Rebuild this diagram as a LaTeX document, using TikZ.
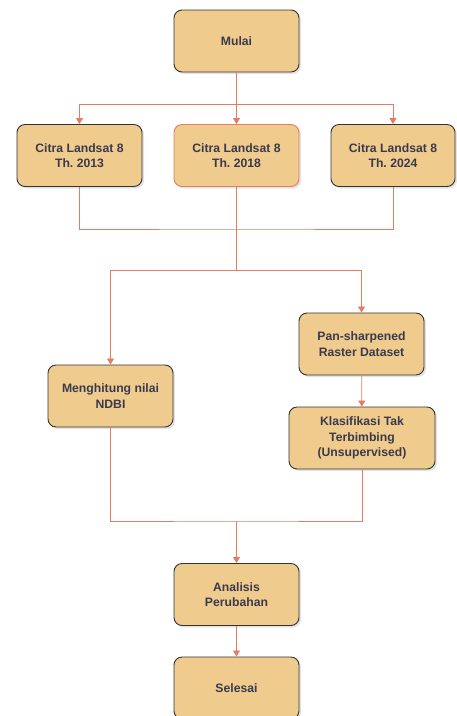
\documentclass[tikz,border=0pt]{standalone}
\usepackage{fontspec}
\setmainfont{Liberation Sans}
\usetikzlibrary{arrows.meta,shadows}
\definecolor{boxfill}{RGB}{240,203,142}
\definecolor{linkred}{RGB}{226,124,98}
\definecolor{txtgray}{RGB}{58,58,76}
\frenchspacing
\tikzset{
  stepbox/.style={draw=black!80, fill=boxfill, rounded corners=8pt,
    minimum width=125pt, minimum height=62pt, align=center, text=txtgray,
    font=\bfseries\fontsize{12.2}{15.5}\selectfont, line width=0.9pt,
    drop shadow={opacity=0.22, shadow xshift=2pt, shadow yshift=-2pt}},
  link/.style={draw=linkred, line width=0.8pt},
  arr/.style={link, -{Triangle[width=7pt,length=6pt]}}
}
\begin{document}
\begin{tikzpicture}[x=1pt, y=-1pt]
      \useasboundingbox (0,0) rectangle (456,716);
      \node[stepbox] (mulai) at (236.5,41) {Mulai};
      \node[stepbox] (c2013) at (79.5,155.5) {Citra Landsat 8\\Th. 2013};
      \node[stepbox, draw=linkred] (c2018) at (236.5,155.5) {Citra Landsat 8\\Th. 2018};
      \node[stepbox, minimum width=124pt] (c2024) at (393,155.5) {Citra Landsat 8\\Th. 2024};
      \node[stepbox] (ndbi) at (110.5,396) {Menghitung nilai\\NDBI};
      \node[stepbox] (pan) at (361.5,344) {Pan-sharpened\\Raster Dataset};
      \node[stepbox, minimum width=146pt] (klas) at (362,438) {Klasifikasi Tak\\Terbimbing\\(Unsupervised)};
      \node[stepbox] (analisis) at (236.5,594.5) {Analisis\\Perubahan};
      \node[stepbox] (selesai) at (236.5,688) {Selesai};
      \coordinate (split1) at (236.5,104);
      \coordinate (join1) at (236.5,229);
      \coordinate (split2) at (236.5,270);
      \coordinate (join2) at (236.5,521);
      \begin{scope}[link]
        \draw (mulai) -- (split1);
        \draw[arr] (split1) -| (c2013);
        \draw[arr] (split1) -- (c2018);
        \draw[arr] (split1) -| (c2024);
        \draw (c2013) |- (join1) -| (c2024);
        \draw (c2018) -- (split2);
        \draw[arr] (split2) -| (ndbi);
        \draw[arr] (split2) -| (pan);
        \draw[arr] (pan) -- (klas);
        \draw (ndbi) |- (join2) -| (klas);
        \draw[arr] (join2) -- (analisis);
        \draw[arr] (analisis) -- (selesai);
      \end{scope}
    \end{tikzpicture}
\end{document}
